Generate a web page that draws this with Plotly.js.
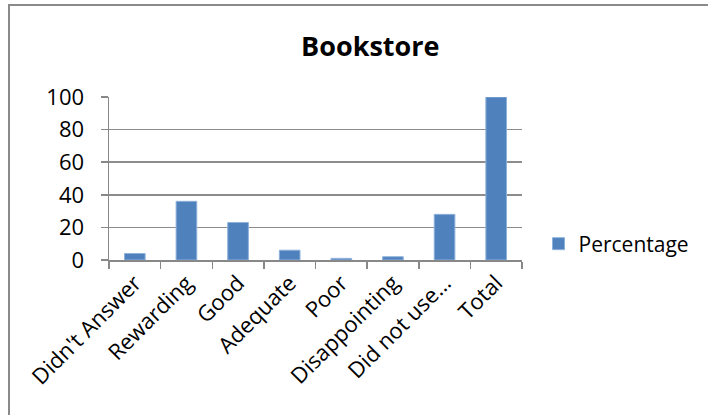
<!DOCTYPE html>
<html>
<head>
<meta charset="utf-8">
<script src="https://cdn.plot.ly/plotly-3.0.1.min.js"></script>
<style>
  html, body { margin: 0; padding: 0; background: #ffffff; overflow: hidden; }
  #frame { position: absolute; left: 8px; top: 4px; width: 760px; height: 480px;
           border: 2px solid #8a8a8a; box-sizing: border-box; }
  #chart { position: absolute; left: 0; top: 0; width: 708px; height: 415px; }
</style>
</head>
<body>
<div id="frame"></div>
<div id="chart"></div>
<script>
const categories = ["Didn't Answer", "Rewarding", "Good", "Adequate", "Poor", "Disappointing", "Did not use…", "Total"];
const percentage = [4, 36, 23, 6, 1, 2, 28, 100];
const seriesName = "Percentage";
const yTicks = [0, 20, 40, 60, 80, 100];
const chartTitle = "Bookstore";

const font = "'Open Sans', 'Noto Sans', sans-serif";

const trace = {
  type: 'bar',
  x: categories,
  y: percentage,
  name: seriesName,
  showlegend: true,
  marker: { color: '#4F81BD', line: { color: '#8EB1DB', width: 1 } }
};

const layout = {
  width: 708,
  height: 415,
  margin: { l: 109, r: 186, t: 97, b: 155, pad: 0 },
  paper_bgcolor: 'rgba(0,0,0,0)',
  plot_bgcolor: 'rgba(0,0,0,0)',
  bargap: 0.6,
  font: { family: font, color: '#000000', size: 22 },
  title: {
    text: '<b>' + chartTitle + '</b>',
    font: { family: font, size: 27, color: '#000000' },
    x: 0.523, xref: 'container', xanchor: 'center',
    y: 0.887, yref: 'container', yanchor: 'middle'
  },
  xaxis: {
    type: 'category',
    tickangle: -45,
    tickson: 'boundaries',
    ticks: 'outside',
    ticklen: 7,
    tickcolor: '#888888',
    tickwidth: 1.5,
    showline: true,
    linecolor: '#888888',
    linewidth: 1.5,
    showgrid: false,
    tickfont: { family: font, size: 22, color: '#000000' },
    fixedrange: true
  },
  yaxis: {
    range: [0, 100],
    tickvals: yTicks,
    ticktext: yTicks.map(String),
    ticks: 'outside',
    ticklen: 7,
    tickcolor: '#888888',
    tickwidth: 1.5,
    showline: true,
    linecolor: '#888888',
    linewidth: 1.5,
    showgrid: true,
    gridcolor: '#8c8c8c',
    gridwidth: 1.5,
    zeroline: false,
    tickfont: { family: font, size: 22, color: '#000000' },
    ticklabelstandoff: 12,
    fixedrange: true
  },
  legend: {
    x: 1.04, xanchor: 'left',
    y: 0.098, yanchor: 'middle',
    font: { family: font, size: 21, color: '#000000' },
    bgcolor: 'rgba(0,0,0,0)',
    borderwidth: 0
  },
  showlegend: true
};

Plotly.newPlot('chart', [trace], layout, { displayModeBar: false, staticPlot: true });
</script>
</body>
</html>
